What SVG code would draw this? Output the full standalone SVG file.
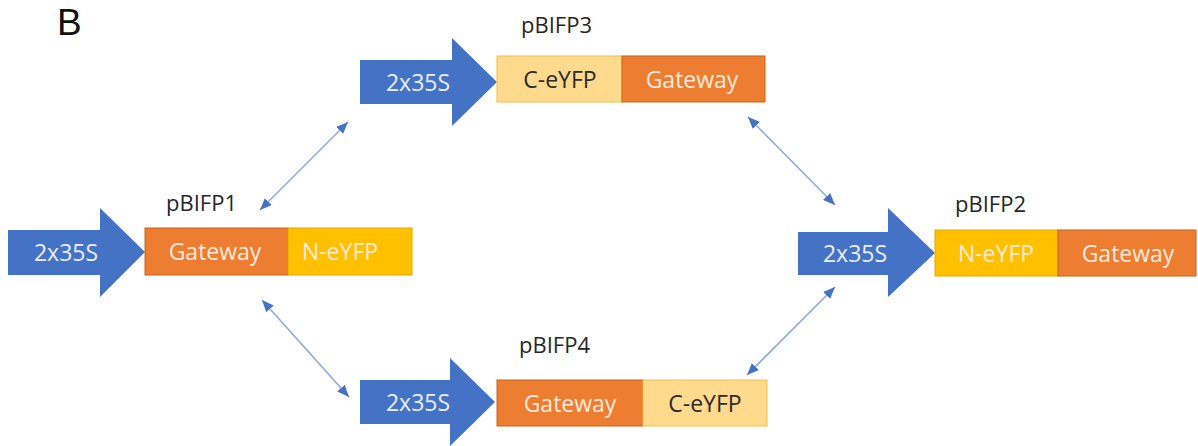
<svg xmlns="http://www.w3.org/2000/svg" width="1198" height="446" viewBox="0 0 1198 446">
  <style>
    .promoter { fill: #4472C4; }
    .promoter-text { font-family: "Open Sans", "Liberation Sans", sans-serif; font-size: 23px; fill: #E8EEF8; text-anchor: middle; dominant-baseline: central; }
    .gateway { fill: #ED7D31; stroke: #C8621C; stroke-width: 1; }
    .neyfp { fill: #FFC000; stroke: #E3A800; stroke-width: 1; }
    .ceyfp { fill: #FFD98C; stroke: #F2BF45; stroke-width: 1; }
    .box-text { font-family: "Open Sans", "Liberation Sans", sans-serif; font-size: 23px; text-anchor: middle; dominant-baseline: central; }
    .light { fill: #FCE9DC; }
    .dark { fill: #2B2B2B; }
    .label { font-family: "Open Sans", "Liberation Sans", sans-serif; font-size: 22px; fill: #262626; }
    .panel { font-family: "Liberation Sans", "Open Sans", sans-serif; font-size: 37px; fill: #111111; }
    .link { fill: none; stroke: #8FAADC; stroke-width: 1.6; marker-start: url(#head); marker-end: url(#head); }
  </style>
  <defs>
    <marker id="head" viewBox="0 0 12 10" refX="12" refY="5" markerWidth="12" markerHeight="10" markerUnits="userSpaceOnUse" orient="auto-start-reverse">
      <path d="M0,0 L12,5 L0,10 Z" fill="#4472C4"/>
    </marker>
  </defs>

  <rect width="1198" height="446" fill="#FFFFFF"/>

  <text class="panel" x="57" y="35">B</text>

  <!-- pBIFP3: 2x35S - C-eYFP - Gateway -->
  <g id="pBIFP3">
    <path class="promoter" d="M360,60 H452 V38 L497,82 L452,126 V104 H360 Z"/>
    <text class="promoter-text" x="418" y="82">2x35S</text>
    <rect class="ceyfp" x="497" y="56" width="125" height="46"/>
    <text class="box-text dark" x="560" y="79">C-eYFP</text>
    <rect class="gateway" x="622" y="56" width="143" height="46"/>
    <text class="box-text light" x="692" y="79">Gateway</text>
    <text class="label" x="521" y="33">pBIFP3</text>
  </g>

  <!-- pBIFP1: 2x35S - Gateway - N-eYFP -->
  <g id="pBIFP1">
    <path class="promoter" d="M8,230 H100 V208 L145,252 L100,297 V275 H8 Z"/>
    <text class="promoter-text" x="66" y="252">2x35S</text>
    <rect class="gateway" x="145" y="228" width="143" height="47"/>
    <text class="box-text light" x="215" y="251">Gateway</text>
    <rect class="neyfp" x="288" y="228" width="124" height="47"/>
    <text class="box-text light" x="340" y="251">N-eYFP</text>
    <text class="label" x="166" y="211">pBIFP1</text>
  </g>

  <!-- pBIFP2: 2x35S - N-eYFP - Gateway -->
  <g id="pBIFP2">
    <path class="promoter" d="M798,232 H888 V208 L935,253 L888,297 V275 H798 Z"/>
    <text class="promoter-text" x="855" y="253">2x35S</text>
    <rect class="neyfp" x="935" y="230" width="123" height="46"/>
    <text class="box-text light" x="996" y="253">N-eYFP</text>
    <rect class="gateway" x="1058" y="230" width="138" height="46"/>
    <text class="box-text light" x="1128" y="253">Gateway</text>
    <text class="label" x="955" y="212">pBIFP2</text>
  </g>

  <!-- pBIFP4: 2x35S - Gateway - C-eYFP -->
  <g id="pBIFP4">
    <path class="promoter" d="M360,380 H450 V358 L495,402 L450,446 V424 H360 Z"/>
    <text class="promoter-text" x="418" y="402">2x35S</text>
    <rect class="gateway" x="497" y="380" width="146" height="46"/>
    <text class="box-text light" x="570" y="403">Gateway</text>
    <rect class="ceyfp" x="643" y="380" width="124" height="46"/>
    <text class="box-text dark" x="705" y="403">C-eYFP</text>
    <text class="label" x="519" y="353">pBIFP4</text>
  </g>

  <!-- double-headed links between constructs -->
  <g id="connectors">
    <path class="link" d="M260,210 L348,122"/>
    <path class="link" d="M262,300 L349,397"/>
    <path class="link" d="M748,117 L835,205"/>
    <path class="link" d="M835,287 L747,375"/>
  </g>
</svg>
